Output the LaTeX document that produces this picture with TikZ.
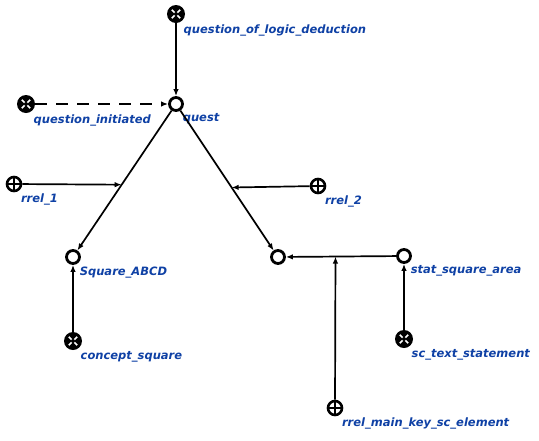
\documentclass[tikz,border=0pt]{standalone}
\usepackage{fontspec}
\newfontfamily\lblfont{DejaVu Sans}
\usetikzlibrary{arrows.meta}
\definecolor{lblblue}{RGB}{15,65,165}

\tikzset{
  lbl/.style={font=\lblfont\bfseries\itshape\fontsize{11.5}{13}\selectfont, text=lblblue, inner sep=1pt, yshift=-3pt},
  ring/.style={circle, draw, line width=2.8pt, minimum size=13pt, inner sep=0pt},
  cls/.style={circle, fill=black, minimum size=18pt, inner sep=0pt,
    path picture={
      \draw[white, line width=1.6pt] ([shift={(-4.2pt,-4.2pt)}]path picture bounding box.center) -- ([shift={(4.2pt,4.2pt)}]path picture bounding box.center);
      \draw[white, line width=1.6pt] ([shift={(-4.2pt,4.2pt)}]path picture bounding box.center) -- ([shift={(4.2pt,-4.2pt)}]path picture bounding box.center);
      \fill[black] (path picture bounding box.center) circle (2pt);
    }},
  role/.style={circle, draw, line width=2.6pt, minimum size=14pt, inner sep=0pt,
    path picture={
      \draw[line width=1.5pt] (path picture bounding box.west) -- (path picture bounding box.east);
      \draw[line width=1.5pt] (path picture bounding box.north) -- (path picture bounding box.south);
    }},
  arc/.style={line width=1.7pt, -{Latex[length=7pt,width=5.5pt]}},
}

\begin{document}
\begin{tikzpicture}[x=1pt, y=-1pt]
  \useasboundingbox (0,0) rectangle (539,440);

  % nodes
  \node[cls, label={[lbl, anchor=north west]-45:question\_of\_logic\_deduction}] (qold) at (176,14) {};
  \node[ring, label={[lbl, anchor=north west]-45:quest}] (quest) at (176,104) {};
  \node[cls, label={[lbl, anchor=north west]-45:question\_initiated}] (qinit) at (26,104) {};
  \node[role, label={[lbl, anchor=north west]-45:rrel\_1}] (rrel1) at (14,184) {};
  \node[role, label={[lbl, anchor=north west]-45:rrel\_2}] (rrel2) at (318,186) {};
  \node[ring, label={[lbl, anchor=north west]-45:Square\_ABCD}] (sq) at (73,257) {};
  \node[ring] (area) at (278,257) {};
  \node[ring, label={[lbl, anchor=north west]-45:stat\_square\_area}] (stat) at (404,256) {};
  \node[cls, label={[lbl, anchor=north west]-45:concept\_square}] (csq) at (73,341) {};
  \node[cls, label={[lbl, anchor=north west]-45:sc\_text\_statement}] (sctext) at (404,339) {};
  \node[role, label={[lbl, anchor=north west]-45:rrel\_main\_key\_sc\_element}] (rmain) at (335,408) {};

  % connectors
  \draw[arc] (qold) -- (quest);
  \draw[arc, dash pattern=on 12pt off 9pt] (qinit) -- (quest);
  \draw[arc] (quest) -- coordinate[pos=0.53] (m1) (sq);
  \draw[arc] (quest) -- coordinate[pos=0.55] (m2) (area);
  \draw[arc] (stat) -- coordinate[pos=0.55] (m3) (area);
  \draw[arc] (rrel1) -- (m1);
  \draw[arc] (rrel2) -- (m2);
  \draw[arc] (rmain) -- (m3);
  \draw[arc] (csq) -- (sq);
  \draw[arc] (sctext) -- (stat);
\end{tikzpicture}
\end{document}
